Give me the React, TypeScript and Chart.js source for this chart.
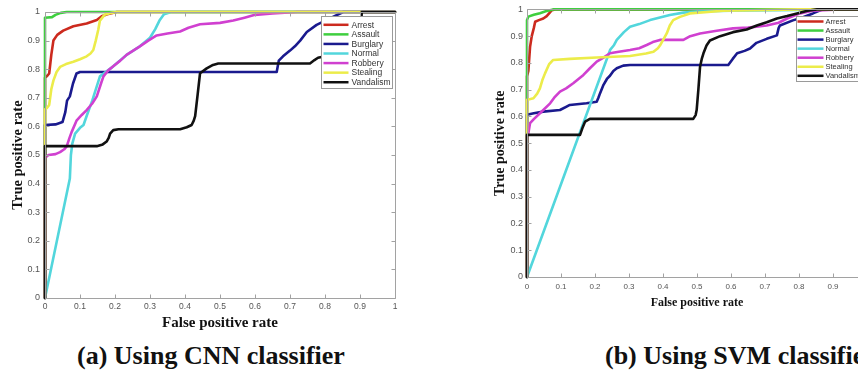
import React, { useEffect, useRef } from 'react';
import { Chart, registerables } from 'chart.js';

Chart.register(...registerables);

type P = [number, number];

const seriesLabels = ['Arrest', 'Assault', 'Burglary', 'Normal', 'Robbery', 'Stealing', 'Vandalism'];
const seriesColors = ['#cc2a1e', '#3fcf3f', '#1a1a8e', '#52d6dc', '#d040d0', '#ecec4a', '#111111'];
const xTickValues = [0, 0.1, 0.2, 0.3, 0.4, 0.5, 0.6, 0.7, 0.8, 0.9, 1];
const yTickValues = [0, 0.1, 0.2, 0.3, 0.4, 0.5, 0.6, 0.7, 0.8, 0.9, 1];
const xTitle = 'False positive rate';
const yTitle = 'True positive rate';
const captionA = '(a) Using CNN classifier';
const captionB = '(b) Using SVM classifier';

// ---- (a) CNN ROC curves: [fpr, tpr]
const cnnArrest: P[] = [[0, 0], [0, 0.77], [0.005, 0.775], [0.012, 0.785], [0.018, 0.85], [0.024, 0.9], [0.035, 0.92], [0.052, 0.935], [0.081, 0.95], [0.119, 0.96], [0.148, 0.972], [0.162, 0.985], [0.178, 0.992], [0.205, 1], [1, 1]];
const cnnAssault: P[] = [[0, 0], [0, 0.98], [0.02, 0.982], [0.03, 0.99], [0.045, 0.997], [0.062, 1], [1, 1]];
const cnnBurglary: P[] = [[0, 0], [0, 0.605], [0.03, 0.607], [0.05, 0.615], [0.058, 0.65], [0.063, 0.69], [0.071, 0.705], [0.08, 0.75], [0.09, 0.785], [0.1, 0.79], [0.662, 0.79], [0.668, 0.83], [0.68, 0.845], [0.7, 0.865], [0.714, 0.88], [0.729, 0.9], [0.748, 0.93], [0.776, 0.955], [0.814, 0.978], [0.852, 1], [1, 1]];
const cnnNormal: P[] = [[0, 0], [0.071, 0.418], [0.074, 0.5], [0.078, 0.54], [0.086, 0.575], [0.1, 0.595], [0.11, 0.605], [0.12, 0.64], [0.135, 0.69], [0.157, 0.775], [0.195, 0.81], [0.233, 0.85], [0.271, 0.88], [0.3, 0.91], [0.315, 0.94], [0.327, 0.97], [0.34, 0.992], [0.36, 1], [1, 1]];
const cnnRobbery: P[] = [[0, 0], [0, 0.49], [0.01, 0.5], [0.03, 0.503], [0.043, 0.51], [0.055, 0.52], [0.062, 0.53], [0.07, 0.56], [0.076, 0.58], [0.09, 0.62], [0.105, 0.64], [0.119, 0.657], [0.135, 0.68], [0.148, 0.705], [0.16, 0.75], [0.167, 0.775], [0.18, 0.795], [0.195, 0.81], [0.215, 0.83], [0.233, 0.85], [0.252, 0.865], [0.271, 0.88], [0.295, 0.9], [0.319, 0.918], [0.35, 0.925], [0.386, 0.932], [0.41, 0.945], [0.443, 0.957], [0.5, 0.962], [0.538, 0.97], [0.57, 0.98], [0.6, 0.99], [0.65, 0.995], [0.72, 1], [1, 1]];
const cnnStealing: P[] = [[0, 0], [0, 0.66], [0.006, 0.665], [0.012, 0.675], [0.018, 0.73], [0.024, 0.76], [0.033, 0.79], [0.043, 0.808], [0.06, 0.818], [0.081, 0.826], [0.1, 0.835], [0.119, 0.845], [0.13, 0.855], [0.138, 0.867], [0.145, 0.9], [0.152, 0.937], [0.157, 0.97], [0.17, 0.99], [0.19, 0.997], [0.205, 1], [1, 1]];
const cnnVandalism: P[] = [[0, 0], [0, 0.531], [0.148, 0.531], [0.165, 0.537], [0.176, 0.547], [0.182, 0.56], [0.186, 0.575], [0.195, 0.587], [0.21, 0.59], [0.386, 0.59], [0.405, 0.597], [0.419, 0.605], [0.425, 0.62], [0.429, 0.636], [0.436, 0.71], [0.443, 0.786], [0.462, 0.803], [0.48, 0.815], [0.495, 0.82], [0.757, 0.82], [0.77, 0.832], [0.78, 0.84], [0.8, 0.845], [0.88, 0.855], [0.9, 0.865], [0.905, 1], [1, 1]];

// ---- (b) SVM ROC curves: [fpr, tpr]
const svmArrest: P[] = [[0, 0], [0, 0.75], [0.004, 0.77], [0.009, 0.86], [0.014, 0.9], [0.02, 0.93], [0.024, 0.954], [0.035, 0.96], [0.048, 0.966], [0.058, 0.975], [0.065, 0.985], [0.073, 0.997], [0.082, 1], [1, 1]];
const svmAssault: P[] = [[0, 0], [0, 0.96], [0.004, 0.973], [0.02, 0.98], [0.038, 0.986], [0.055, 0.993], [0.077, 1], [1, 1]];
const svmBurglary: P[] = [[0, 0], [0, 0.606], [0.02, 0.612], [0.048, 0.618], [0.097, 0.624], [0.115, 0.636], [0.126, 0.643], [0.175, 0.649], [0.205, 0.655], [0.21, 0.67], [0.215, 0.687], [0.225, 0.718], [0.235, 0.74], [0.244, 0.752], [0.254, 0.77], [0.264, 0.78], [0.283, 0.79], [0.303, 0.792], [0.592, 0.792], [0.605, 0.815], [0.618, 0.836], [0.64, 0.845], [0.656, 0.854], [0.675, 0.875], [0.705, 0.89], [0.735, 0.903], [0.74, 0.93], [0.744, 0.94], [0.782, 0.959], [0.81, 0.97], [0.841, 0.985], [0.87, 1], [1, 1]];
const svmNormal: P[] = [[0, 0], [0.245, 0.85], [0.255, 0.865], [0.264, 0.886], [0.285, 0.915], [0.303, 0.935], [0.33, 0.945], [0.362, 0.96], [0.42, 0.979], [0.46, 0.988], [0.5, 0.992], [0.6, 0.995], [0.8, 0.998], [0.85, 1], [1, 1]];
const svmRobbery: P[] = [[0, 0], [0, 0.53], [0.004, 0.537], [0.009, 0.575], [0.02, 0.59], [0.038, 0.612], [0.068, 0.649], [0.08, 0.67], [0.097, 0.693], [0.115, 0.705], [0.136, 0.724], [0.166, 0.755], [0.185, 0.78], [0.205, 0.805], [0.225, 0.82], [0.244, 0.836], [0.27, 0.842], [0.303, 0.848], [0.33, 0.855], [0.352, 0.867], [0.37, 0.878], [0.391, 0.886], [0.46, 0.886], [0.48, 0.9], [0.509, 0.91], [0.558, 0.92], [0.606, 0.929], [0.65, 0.932], [0.705, 0.94], [0.74, 0.95], [0.765, 0.966], [0.803, 0.985], [0.84, 0.995], [0.92, 1], [1, 1]];
const svmStealing: P[] = [[0, 0], [0, 0.662], [0.01, 0.665], [0.019, 0.668], [0.03, 0.685], [0.038, 0.705], [0.045, 0.735], [0.053, 0.761], [0.065, 0.795], [0.077, 0.811], [0.126, 0.815], [0.205, 0.82], [0.303, 0.826], [0.35, 0.835], [0.372, 0.842], [0.385, 0.855], [0.391, 0.865], [0.4, 0.885], [0.411, 0.91], [0.42, 0.94], [0.43, 0.96], [0.45, 0.972], [0.479, 0.985], [0.577, 0.995], [0.8, 1], [1, 1]];
const svmVandalism: P[] = [[0, 0], [0, 0.531], [0.156, 0.531], [0.164, 0.56], [0.171, 0.581], [0.185, 0.591], [0.489, 0.591], [0.496, 0.605], [0.499, 0.624], [0.504, 0.7], [0.509, 0.786], [0.514, 0.815], [0.519, 0.836], [0.528, 0.865], [0.538, 0.884], [0.568, 0.9], [0.606, 0.915], [0.646, 0.925], [0.676, 0.94], [0.705, 0.952], [0.735, 0.966], [0.765, 0.975], [0.794, 0.985], [0.825, 0.995], [0.853, 1], [1, 1]];

const cnnSeries = [cnnArrest, cnnAssault, cnnBurglary, cnnNormal, cnnRobbery, cnnStealing, cnnVandalism];
const svmSeries = [svmArrest, svmAssault, svmBurglary, svmNormal, svmRobbery, svmStealing, svmVandalism];

const fmtTick = (v: number) => String(Math.round(v * 10) / 10);

const axesBoxPlugin = {
  id: 'axesBox',
  afterDatasetsDraw(chart: any, _args: any, opts: any) {
    const { ctx, chartArea: a, scales } = chart;
    const L = opts.len;
    ctx.save();
    ctx.strokeStyle = opts.color;
    ctx.lineWidth = 1;
    const l = Math.round(a.left) + 0.5;
    const t = Math.round(a.top) + 0.5;
    const r = Math.round(a.right) + 0.5;
    const b = Math.round(a.bottom) + 0.5;
    ctx.beginPath();
    ctx.rect(l, t, r - l, b - t);
    scales.x.ticks.forEach((tk: any) => {
      const px = Math.round(scales.x.getPixelForValue(tk.value)) + 0.5;
      ctx.moveTo(px, b); ctx.lineTo(px, b - L);
      ctx.moveTo(px, t); ctx.lineTo(px, t + L);
    });
    scales.y.ticks.forEach((tk: any) => {
      const py = Math.round(scales.y.getPixelForValue(tk.value)) + 0.5;
      ctx.moveTo(l, py); ctx.lineTo(l + L, py);
      ctx.moveTo(r, py); ctx.lineTo(r - L, py);
    });
    ctx.stroke();
    ctx.restore();
  },
};

const boxLegendPlugin = {
  id: 'boxLegend',
  afterDraw(chart: any, _args: any, o: any) {
    const { ctx, chartArea: a } = chart;
    const x0 = Math.round(a.left + o.left) + 0.5;
    const y0 = Math.round(a.top + o.top) + 0.5;
    ctx.save();
    ctx.fillStyle = '#ffffff';
    ctx.fillRect(x0, y0, o.w, o.h);
    ctx.strokeStyle = '#9a9a9a';
    ctx.lineWidth = 1;
    ctx.strokeRect(x0, y0, o.w, o.h);
    ctx.font = `${o.fontSize}px "Liberation Sans", Arial, sans-serif`;
    ctx.textBaseline = 'middle';
    ctx.textAlign = 'left';
    chart.data.datasets.forEach((ds: any, i: number) => {
      const cy = y0 + o.firstRow + i * o.rowH;
      ctx.strokeStyle = ds.borderColor;
      ctx.lineWidth = 2.5;
      ctx.beginPath();
      ctx.moveTo(x0 + o.lineStart, cy);
      ctx.lineTo(x0 + o.lineStart + o.lineLen, cy);
      ctx.stroke();
      ctx.fillStyle = '#333333';
      ctx.fillText(ds.label, x0 + o.textStart, cy + 0.5);
    });
    ctx.restore();
  },
};

function makeConfig(series: P[][], g: any): any {
  return {
    type: 'line',
    data: {
      datasets: series.map((pts, i) => ({
        label: seriesLabels[i],
        data: pts.map(([x, y]) => ({ x, y })),
        borderColor: seriesColors[i],
        backgroundColor: seriesColors[i],
        borderWidth: 2.6,
        pointRadius: 0,
        tension: 0,
        fill: false,
        clip: 4,
        order: series.length - i,
        borderJoinStyle: 'round',
        borderCapStyle: 'round',
      })),
    },
    options: {
      responsive: false,
      animation: false,
      devicePixelRatio: 1,
      events: [],
      layout: { padding: { left: 0, top: g.top, right: g.right, bottom: 0 } },
      plugins: {
        legend: { display: false },
        tooltip: { enabled: false },
        axesBox: { color: '#a2a2a2', len: g.tickLen },
        boxLegend: g.legend,
      },
      scales: {
        x: {
          type: 'linear',
          min: 0,
          max: 1,
          afterBuildTicks: (s: any) => { s.ticks = xTickValues.map((v) => ({ value: v })); },
          afterFit: (s: any) => { s.height = g.xh; },
          grid: { display: false, drawTicks: false },
          border: { display: false },
          ticks: {
            padding: g.xTickPad,
            autoSkip: false,
            maxRotation: 0,
            color: '#555555',
            font: { family: '"Liberation Sans", Arial, sans-serif', size: g.xTickSize },
            callback: (v: any) => fmtTick(Number(v)),
          },
          title: {
            display: true,
            text: xTitle,
            color: '#111111',
            font: { family: '"Liberation Serif", "Times New Roman", serif', size: g.xTitleSize, weight: 'bold' },
            padding: { top: 0, bottom: g.xTitlePad },
          },
        },
        y: {
          type: 'linear',
          min: 0,
          max: 1,
          afterBuildTicks: (s: any) => { s.ticks = yTickValues.map((v) => ({ value: v })); },
          afterFit: (s: any) => { s.width = g.yw; },
          grid: { display: false, drawTicks: false },
          border: { display: false },
          ticks: {
            padding: g.yTickPad,
            autoSkip: false,
            color: '#555555',
            font: { family: '"Liberation Sans", Arial, sans-serif', size: g.yTickSize },
            callback: (v: any) => fmtTick(Number(v)),
          },
          title: {
            display: true,
            text: yTitle,
            color: '#111111',
            font: { family: '"Liberation Serif", "Times New Roman", serif', size: g.yTitleSize, weight: 'bold' },
            padding: { top: g.yTitlePad, bottom: 0 },
          },
        },
      },
    },
    plugins: [axesBoxPlugin, boxLegendPlugin],
  };
}

const geoA = {
  top: 12, right: 35, xh: 42, yw: 45, tickLen: 4,
  xTickPad: 4, xTickSize: 8.5, yTickPad: 5, yTickSize: 9,
  xTitleSize: 15, xTitlePad: 8, yTitleSize: 14.5, yTitlePad: 9.5,
  legend: { left: 276, top: 4, w: 71, h: 72, firstRow: 8.3, rowH: 9.57, lineStart: 2, lineLen: 25, textStart: 30, fontSize: 8.5 },
};
const geoB = {
  top: 9, right: 13, xh: 38, yw: 97, tickLen: 4,
  xTickPad: 5, xTickSize: 8, yTickPad: 4, yTickSize: 9,
  xTitleSize: 12, xTitlePad: 4.8, yTitleSize: 14, yTitlePad: 61.6,
  legend: { left: 269, top: 7, w: 68, h: 65, firstRow: 5, rowH: 9.05, lineStart: 1, lineLen: 26, textStart: 29, fontSize: 7.5 },
};

export default function App() {
  const refA = useRef<HTMLCanvasElement>(null);
  const refB = useRef<HTMLCanvasElement>(null);

  useEffect(() => {
    const a = new Chart(refA.current as HTMLCanvasElement, makeConfig(cnnSeries, geoA));
    const b = new Chart(refB.current as HTMLCanvasElement, makeConfig(svmSeries, geoB));
    return () => { a.destroy(); b.destroy(); };
  }, []);

  const capStyle: React.CSSProperties = {
    position: 'absolute',
    top: 341,
    font: 'bold 26px "Liberation Serif", "Times New Roman", serif',
    lineHeight: '30px',
    whiteSpace: 'nowrap',
    color: '#111111',
  };

  return (
    <div style={{ position: 'absolute', left: 0, top: 0, width: 858, height: 374, overflow: 'hidden', background: '#ffffff' }}>
      <canvas ref={refA} width={430} height={340} style={{ position: 'absolute', left: 0, top: 0, width: 430, height: 340 }} />
      <canvas ref={refB} width={450} height={315} style={{ position: 'absolute', left: 430, top: 0, width: 450, height: 315 }} />
      <div style={{ ...capStyle, left: 77 }}>{captionA}</div>
      <div style={{ ...capStyle, left: 605 }}>{captionB}</div>
    </div>
  );
}
